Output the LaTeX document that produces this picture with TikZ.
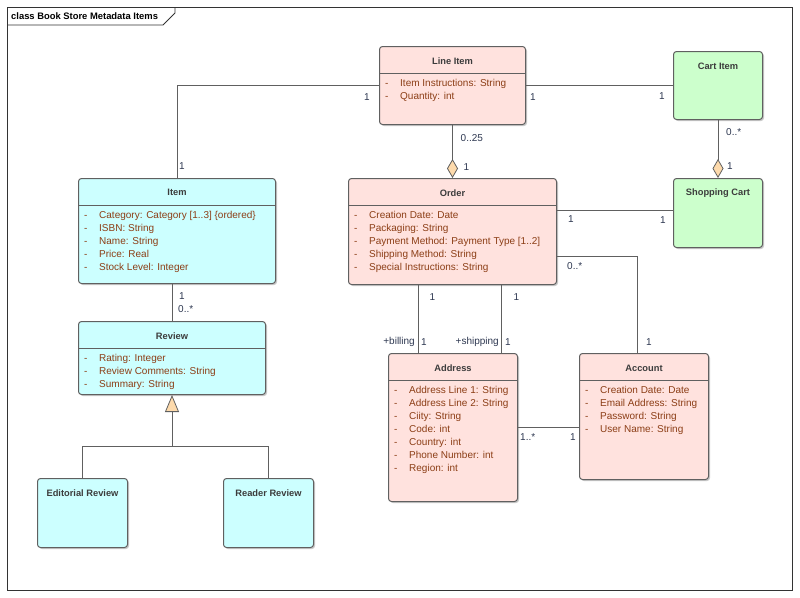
\documentclass[tikz,border=0pt]{standalone}
\usepackage{fontspec}
\setmainfont{Liberation Sans}
\usepackage{xcolor}
\usepackage{tikz}
\usetikzlibrary{arrows.meta, positioning, calc, shadows}
\definecolor{linec}{RGB}{96,96,96}
\definecolor{pinkc}{RGB}{255,226,222}
\definecolor{cyanc}{RGB}{204,255,255}
\definecolor{greenc}{RGB}{204,255,204}
\definecolor{attrc}{RGB}{140,62,22}
\definecolor{titlec}{RGB}{60,60,60}
\definecolor{multc}{RGB}{45,55,80}
\definecolor{diamc}{RGB}{253,218,172}
\tikzset{%
	box/.style={draw=linec, line width=1pt, rounded corners=3pt, anchor=north west, inner sep=0pt,%
		drop shadow={shadow xshift=1.5pt, shadow yshift=-1.5pt, fill=black!35, opacity=.6}},
	pinkbox/.style={box, fill=pinkc},
	cyanbox/.style={box, fill=cyanc},
	greenbox/.style={box, fill=greenc},
	ctitle/.style={font=\fontsize{9.3}{11}\selectfont\bfseries, text=titlec, inner sep=0pt},
	attr/.style={font=\fontsize{10}{12}\selectfont, text=attrc, anchor=base west, inner sep=0pt},
	mult/.style={font=\fontsize{10}{12}\selectfont, text=multc, inner sep=0pt},
	assoc/.style={draw=linec, line width=1pt},
	agg/.style={assoc, -{Diamond[length=19pt, width=11pt, fill=diamc, line width=0.8pt]}},
	gen/.style={assoc, -{Triangle[length=17pt, width=14pt, fill=diamc, line width=0.8pt]}},
	headline/.style={draw=linec, line width=1pt}
}
\newcommand\attrlist[2]{% box, attributes
	\draw[headline] ([yshift=-27pt]#1.north west) -- ([yshift=-27pt]#1.north east);
	\foreach \txt [count=\i] in {#2}{
		\node[attr] (#1-d\i) at ($(#1.north west)+(6,27.5+13*\i)$) {-};
		\node[attr] (#1-a\i) at ($(#1.north west)+(21,27.5+13*\i)$) {\txt};
	}
}

\begin{document}
\begin{tikzpicture}[x=1pt, y=-1pt]
  \useasboundingbox (0,0) rectangle (800,597);
  % frame
  \draw[black!80, line width=0.8pt] (7,7) rectangle (792,590);
  \draw[black!80, line width=0.8pt] (7,25) -- (163,25) -- (175,13) -- (175,7);
  \node[font=\fontsize{9.4}{11}\selectfont\bfseries, anchor=west, inner sep=0pt] (frame) at (11,16) {class Book Store Metadata Items};

  % classes
  \node[pinkbox, minimum width=146pt, minimum height=78pt] (line) at (379,46) {};
  \node[ctitle] (line-t) at ($(line.north)+(0,15)$) {Line Item};
  \attrlist{line}{Item Instructions: String, Quantity: int}

  \node[greenbox, minimum width=89pt, minimum height=68pt] (cart) at (673,51) {};
  \node[ctitle] (cart-t) at ($(cart.north)+(0,15)$) {Cart Item};

  \node[cyanbox, minimum width=197pt, minimum height=105pt] (item) at (78,178) {};
  \node[ctitle] (item-t) at ($(item.north)+(0,14.5)$) {Item};
  \attrlist{item}{Category: Category [1..3] \{ordered\}, ISBN: String, Name: String, Price: Real, Stock Level: Integer}

  \node[pinkbox, minimum width=208pt, minimum height=106pt] (order) at (348,178) {};
  \node[ctitle] (order-t) at ($(order.north)+(0,15)$) {Order};
  \attrlist{order}{Creation Date: Date, Packaging: String, Payment Method: Payment Type [1..2], Shipping Method: String, Special Instructions: String}

  \node[greenbox, minimum width=89pt, minimum height=69pt] (shop) at (673,178) {};
  \node[ctitle] (shop-t) at ($(shop.north)+(0,15.5)$) {Shopping Cart};

  \node[cyanbox, minimum width=187pt, minimum height=73pt] (review) at (78,321) {};
  \node[ctitle] (review-t) at ($(review.north)+(0,15)$) {Review};
  \attrlist{review}{Rating: Integer, Review Comments: String, Summary: String}

  \node[cyanbox, minimum width=90pt, minimum height=69pt] (edit) at (37,478) {};
  \node[ctitle] (edit-t) at ($(edit.north)+(0,15.5)$) {Editorial Review};

  \node[cyanbox, minimum width=90pt, minimum height=69pt] (reader) at (223,478) {};
  \node[ctitle] (reader-t) at ($(reader.north)+(0,15.5)$) {Reader Review};

  \node[pinkbox, minimum width=129pt, minimum height=148pt] (addr) at (388,353) {};
  \node[ctitle] (addr-t) at ($(addr.north)+(0,15)$) {Address};
  \attrlist{addr}{Address Line 1: String, Address Line 2: String, Ciity: String, Code: int, Country: int, Phone Number: int, Region: int}

  \node[pinkbox, minimum width=129pt, minimum height=126pt] (acct) at (579,353) {};
  \node[ctitle] (acct-t) at ($(acct.north)+(0,15)$) {Account};
  \attrlist{acct}{Creation Date: Date, Email Address: String, Password: String, User Name: String}

  % connectors
  \draw[assoc] (item.north) |- (line.west);
  \draw[assoc] (line.east) -- (cart.west);
  \draw[agg] (line.south) -- (order.north);
  \draw[agg] (cart.south) -- (shop.north);
  \draw[assoc] ([yshift=3pt]shop.west) -- ([yshift=3pt]shop.west -| order.east);
  \coordinate (acc) at ($(order.north east)+(80,78)$);
  \draw[assoc] (order.east |- acc) -| (acc |- acct.north);
  \draw[assoc] ([xshift=-34pt]order.south) -- ([xshift=-34pt]order.south |- addr.north);
  \draw[assoc] ([xshift=49pt]order.south) -- ([xshift=49pt]order.south |- addr.north);
  \draw[assoc] (addr.east) -- (addr.east -| acct.west);
  \draw[assoc] (review.north) -- (review.north |- item.south);
  \coordinate (genj) at ($(review.south)+(0,51)$);
  \draw[assoc] (edit.north) |- (genj);
  \draw[assoc] (reader.north) |- (genj);
  \draw[gen] (genj) -- (review.south);

  % multiplicities
  \node[mult] (m1) at ($(line.west)+(-12,12)$) {1};
  \node[mult] (m2) at ($(item.north)+(5,-12)$) {1};
  \node[mult] (m3) at ($(line.east)+(7,12)$) {1};
  \node[mult] (m4) at ($(cart.west)+(-11,11)$) {1};
  \node[mult, anchor=west] (m5) at ($(line.south)+(8,13)$) {0..25};
  \node[mult] (m6) at ($(order.north)+(14,-11)$) {1};
  \node[mult, anchor=west] (m7) at ($(cart.south)+(8,12)$) {0..*};
  \node[mult] (m8) at ($(shop.north)+(12,-12)$) {1};
  \node[mult] (m9) at ($(order.east)+(14,-12)$) {1};
  \node[mult] (m10) at ($(shop.west)+(-10,7)$) {1};
  \node[mult, anchor=west] (m11) at ($(order.east |- acc)+(10,10)$) {0..*};
  \node[mult] (m12) at ($(acc |- acct.north)+(12,-11)$) {1};
  \node[mult] (m13) at ($(order.south)+(-20,12)$) {1};
  \node[mult, anchor=east] (m14) at ($(addr.north)+(-38,-11)$) {+billing};
  \node[mult] (m15) at ($(addr.north)+(-29,-11)$) {1};
  \node[mult] (m16) at ($(order.south)+(64,12)$) {1};
  \node[mult, anchor=east] (m17) at ($(addr.north)+(46,-11)$) {+shipping};
  \node[mult] (m18) at ($(addr.north)+(55,-11)$) {1};
  \node[mult, anchor=west] (m19) at ($(addr.east)+(2,10)$) {1..*};
  \node[mult] (m20) at ($(acct.west)+(-6,21)$) {1};
  \node[mult] (m21) at ($(review.north |- item.south)+(10,12)$) {1};
  \node[mult, anchor=west] (m22) at ($(review.north)+(6,-12)$) {0..*};
\end{tikzpicture}
\end{document}
